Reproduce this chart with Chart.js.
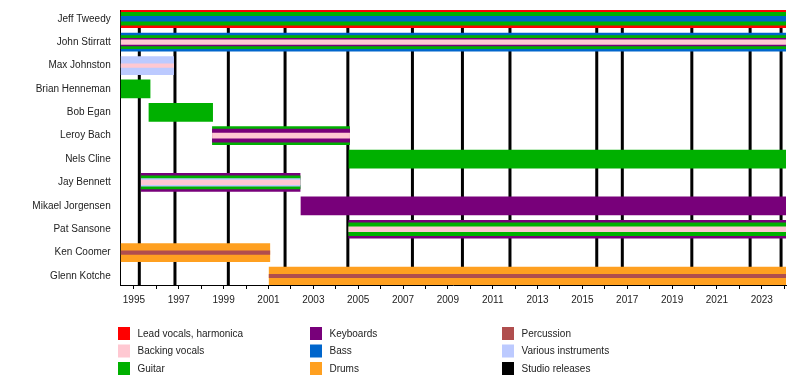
<!DOCTYPE html>
<html>
<head>
<meta charset="utf-8">
<script src="https://cdn.jsdelivr.net/npm/chart.js@4.4.1/dist/chart.umd.min.js"></script>
<style>
  html, body { margin: 0; padding: 0; background: #fff; }
</style>
</head>
<body>
<canvas id="myChart" width="800" height="385"></canvas>
<script>
const ctx = document.getElementById('myChart').getContext('2d');

// Band members, top to bottom
const members = ['Jeff Tweedy', 'John Stirratt', 'Max Johnston', 'Brian Henneman', 'Bob Egan',
  'Leroy Bach', 'Nels Cline', 'Jay Bennett', 'Mikael Jorgensen', 'Pat Sansone', 'Ken Coomer', 'Glenn Kotche'];

// Membership periods (decimal years)
const joined = [1994.41, 1994.41, 1994.41, 1994.41, 1995.67, 1998.50, 2004.59, 1995.33, 2002.45, 2004.58, 1994.41, 2001.03];
const left   = [2024.08, 2024.08, 1996.77, 1995.72, 1998.51, 2004.62, 2024.08, 2002.41, 2024.08, 2024.08, 2001.06, 2024.08];

// Instruments of each member, outer stripe first
const roles = [
  ['vocals', 'guitar', 'bass'],
  ['bass', 'guitar', 'keys', 'backing'],
  ['various', 'backing'],
  ['guitar'],
  ['guitar'],
  ['guitar', 'keys', 'backing'],
  ['guitar'],
  ['keys', 'guitar', 'various', 'backing'],
  ['keys'],
  ['keys', 'guitar', 'backing'],
  ['drums', 'perc'],
  ['drums', 'perc']
];

// Studio album release dates
const releases = [1995.24, 1996.83, 1999.21, 2001.74, 2004.54, 2007.42, 2009.65, 2011.77, 2015.64, 2016.78, 2019.88, 2022.48, 2023.86];

// Legend entries
const roleKeys   = ['vocals', 'backing', 'guitar', 'keys', 'bass', 'drums', 'perc', 'various', 'releases'];
const roleNames  = ['Lead vocals, harmonica', 'Backing vocals', 'Guitar', 'Keyboards', 'Bass', 'Drums',
  'Percussion', 'Various instruments', 'Studio releases'];
const roleColors = ['#ff0000', '#ffc8d2', '#00b000', '#78007a', '#0066cc', '#ffa020', '#b04e4e', '#bccaff', '#000000'];

// Axis ticks
const yearTicks = [1995, 1996, 1997, 1998, 1999, 2000, 2001, 2002, 2003, 2004, 2005, 2006, 2007, 2008, 2009,
  2010, 2011, 2012, 2013, 2014, 2015, 2016, 2017, 2018, 2019, 2020, 2021, 2022, 2023, 2024];
const yearLabels = ['1995', '1997', '1999', '2001', '2003', '2005', '2007', '2009', '2011', '2013', '2015',
  '2017', '2019', '2021', '2023'];

// stripe thickness by number of instruments (style only)
const stripeWidths = { 1: [18], 2: [18, 3.5], 3: [18, 13, 5], 4: [18, 13, 7.5, 4.5] };

const FONT = '"Liberation Sans", Arial, sans-serif';

const datasets = [];
members.forEach((name, i) => {
  roles[i].forEach((role, j) => {
    datasets.push({
      label: name + ' / ' + role,
      data: [{ x: [joined[i], left[i]], y: i }],
      backgroundColor: roleColors[roleKeys.indexOf(role)],
      barThickness: stripeWidths[roles[i].length][j],
      grouped: false,
      borderWidth: 0,
      order: 10 - j
    });
  });
});

// vertical lines for the studio releases, under the bars
const releaseLines = {
  id: 'releaseLines',
  beforeDatasetsDraw(chart) {
    const { ctx, chartArea, scales } = chart;
    ctx.save();
    ctx.fillStyle = roleColors[roleKeys.indexOf('releases')];
    releases.forEach(yr => {
      const x = scales.x.getPixelForValue(yr);
      ctx.fillRect(x - 1.5, chartArea.top, 3, chartArea.bottom - chartArea.top);
    });
    ctx.restore();
  }
};

// 3 x 3 legend under the axis
const legendCols = [118, 310, 502];
const bandLegend = {
  id: 'bandLegend',
  afterDraw(chart) {
    const c = chart.ctx;
    c.save();
    c.font = '10px ' + FONT;
    c.textBaseline = 'middle';
    roleNames.forEach((name, i) => {
      const x = legendCols[Math.floor(i / 3)];
      const y = 327 + (i % 3) * 17.5;
      c.fillStyle = roleColors[i];
      c.fillRect(x, y, 12, 13);
      c.fillStyle = '#222';
      c.fillText(name, x + 19.5, y + 7);
    });
    c.restore();
  }
};

Chart.defaults.font.family = FONT;
Chart.defaults.font.size = 10;
Chart.defaults.color = '#222';

const myChart = new Chart(ctx, {
  type: 'bar',
  data: { datasets: datasets },
  plugins: [releaseLines, bandLegend],
  options: {
    indexAxis: 'y',
    responsive: false,
    animation: false,
    layout: { padding: { top: 10, right: 14, left: 0, bottom: 0 } },
    plugins: { legend: { display: false }, tooltip: { enabled: false } },
    scales: {
      x: {
        type: 'linear',
        min: 1994.41,
        max: 2024.08,
        afterBuildTicks: scale => { scale.ticks = yearTicks.map(v => ({ value: v })); },
        afterFit: scale => { scale.height = 100; scale.paddingLeft = 0; scale.paddingRight = 0; },
        grid: { drawOnChartArea: false, drawTicks: true, tickLength: 4, color: '#000' },
        border: { display: true, color: '#000', width: 1 },
        ticks: {
          autoSkip: false,
          maxRotation: 0,
          minRotation: 0,
          padding: 5,
          callback: v => (yearLabels.includes(String(v)) ? String(v) : '')
        }
      },
      y: {
        type: 'linear',
        offset: false,
        reverse: true,
        min: -0.376,
        max: 11.386,
        afterBuildTicks: scale => { scale.ticks = members.map((_, i) => ({ value: i })); },
        afterFit: scale => { scale.width = 120.7; scale.paddingTop = 0; scale.paddingBottom = 0; },
        grid: { display: false, drawTicks: false, offset: false },
        border: { display: true, color: '#000', width: 1 },
        ticks: { padding: 10, autoSkip: false, callback: v => members[v] }
      }
    }
  }
});
</script>
</body>
</html>
